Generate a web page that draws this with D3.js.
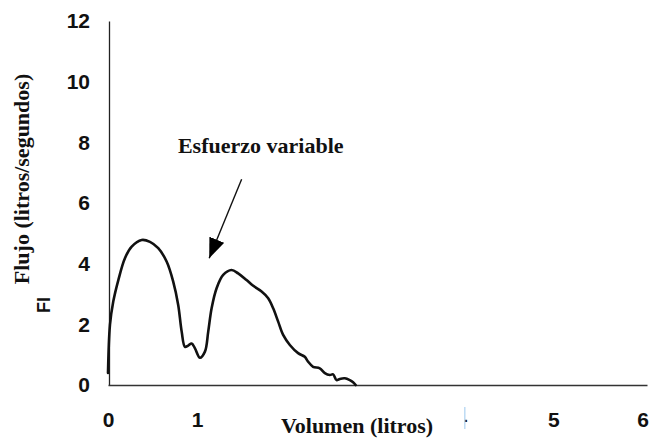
<!DOCTYPE html>
<html>
<head>
<meta charset="utf-8">
<script src="https://cdn.jsdelivr.net/npm/d3@7/dist/d3.min.js"></script>
<style>
  html, body { margin: 0; padding: 0; background: #fff; }
  svg { display: block; }
</style>
</head>
<body>
<svg id="chart" width="651" height="439"></svg>
<script>
// Flow–volume loop (expiratory limb) with a variable-effort notch
const volume = [0, 0.022, 0.059, 0.116, 0.19, 0.266, 0.378, 0.471, 0.564, 0.658, 0.732, 0.788,
  0.827, 0.864, 0.90, 0.939, 0.976, 1.032, 1.088, 1.125, 1.163, 1.219, 1.293, 1.387, 1.461,
  1.555, 1.63, 1.724, 1.798, 1.854, 1.91, 1.966, 2.041, 2.134, 2.209, 2.246, 2.302, 2.377,
  2.434, 2.49, 2.527, 2.565, 2.602, 2.658, 2.714, 2.751, 2.78];
const flow = [0.40, 1.98, 2.75, 3.46, 4.18, 4.56, 4.78, 4.72, 4.51, 4.07, 3.41, 2.64,
  1.76, 1.26, 1.30, 1.37, 1.21, 0.90, 1.10, 1.76, 2.53, 3.19, 3.63, 3.79, 3.68,
  3.46, 3.27, 3.08, 2.86, 2.53, 2.09, 1.65, 1.32, 1.05, 0.93, 0.77, 0.60, 0.55,
  0.39, 0.33, 0.35, 0.16, 0.20, 0.22, 0.16, 0.09, 0.0];

const yTickValues = [0, 2, 4, 6, 8, 10, 12];
const xTickValues = [0, 1, 4, 5, 6];
const xTickLabels = ["0", "1", ".", "5", "6"];

const xTitle = "Volumen (litros)";
const yTitle = "Flujo (litros/segundos)";
const yStub = "Fl";
const noteText = "Esfuerzo variable";
// annotation arrow: from tail to head, in data units
const noteArrow = [[1.50, 6.78], [1.136, 4.18]];
const notePos = [0.785, 7.65];

const svg = d3.select("#chart");
const x = d3.scaleLinear().domain([0, 6.05]).range([108, 647]);
const y = d3.scaleLinear().domain([0, 12]).range([385, 21]);

const sans = "'Liberation Sans', Arial, sans-serif";
const serif = "'Liberation Serif', 'Times New Roman', serif";

// y axis
const yAxis = svg.append("g")
  .attr("transform", "translate(109,0)")
  .call(d3.axisLeft(y).tickValues(yTickValues).tickSize(0).tickPadding(19));
yAxis.select(".domain").attr("stroke", "#222").attr("stroke-width", 1.3);
yAxis.selectAll("text")
  .attr("font-family", sans).attr("font-weight", "bold").attr("font-size", 21).attr("fill", "#111");

// x axis
const xAxis = svg.append("g")
  .attr("transform", "translate(0,385)")
  .call(d3.axisBottom(x).tickValues(xTickValues).tickSize(0).tickPadding(27)
    .tickFormat((d, i) => xTickLabels[i]));
xAxis.select(".domain").attr("stroke", "#333").attr("stroke-width", 1.5);
xAxis.selectAll("text")
  .attr("font-family", sans).attr("font-weight", "bold").attr("font-size", 21).attr("fill", "#111");
xAxis.selectAll(".tick").filter((d, i) => xTickLabels[i] === ".")
  .each(function () {
    const g = d3.select(this);
    g.select("text").attr("font-size", 14).attr("dx", 1);
    g.append("line").attr("x1", 0).attr("x2", 0).attr("y1", 22).attr("y2", 44)
      .attr("stroke", "#9cc8ee").attr("stroke-width", 1);
  });

// axis titles
svg.append("text")
  .attr("x", 357).attr("y", 433).attr("text-anchor", "middle")
  .attr("font-family", serif).attr("font-weight", "bold").attr("font-size", 22).attr("fill", "#111")
  .text(xTitle);

svg.append("text")
  .attr("transform", "translate(29,179) rotate(-90)").attr("text-anchor", "middle")
  .attr("font-family", serif).attr("font-weight", "bold").attr("font-size", 22).attr("fill", "#111")
  .text(yTitle);

svg.append("text")
  .attr("transform", "translate(50,305) rotate(-90)").attr("text-anchor", "middle")
  .attr("font-family", sans).attr("font-weight", "bold").attr("font-size", 18).attr("fill", "#111")
  .text(yStub);

// flow curve
const pts = volume.map((v, i) => [v, flow[i]]);
svg.append("path")
  .datum(pts)
  .attr("fill", "none").attr("stroke", "#111").attr("stroke-width", 2.6)
  .attr("stroke-linejoin", "round").attr("stroke-linecap", "round")
  .attr("d", d3.line().x(d => x(d[0])).y(d => y(d[1])).curve(d3.curveCatmullRom.alpha(0.5)));

// annotation
svg.append("defs").append("marker")
  .attr("id", "head").attr("viewBox", "0 0 20 16").attr("refX", 20).attr("refY", 8)
  .attr("markerWidth", 20).attr("markerHeight", 16).attr("markerUnits", "userSpaceOnUse")
  .attr("orient", "auto")
  .append("path").attr("d", "M0,0 L20,8 L0,16 Z").attr("fill", "#000");

svg.append("line")
  .attr("x1", x(noteArrow[0][0])).attr("y1", y(noteArrow[0][1]))
  .attr("x2", x(noteArrow[1][0])).attr("y2", y(noteArrow[1][1]))
  .attr("stroke", "#111").attr("stroke-width", 1.4)
  .attr("marker-end", "url(#head)");

svg.append("text")
  .attr("x", x(notePos[0])).attr("y", y(notePos[1]))
  .attr("font-family", serif).attr("font-weight", "bold").attr("font-size", 22).attr("fill", "#111")
  .text(noteText);
</script>
</body>
</html>
